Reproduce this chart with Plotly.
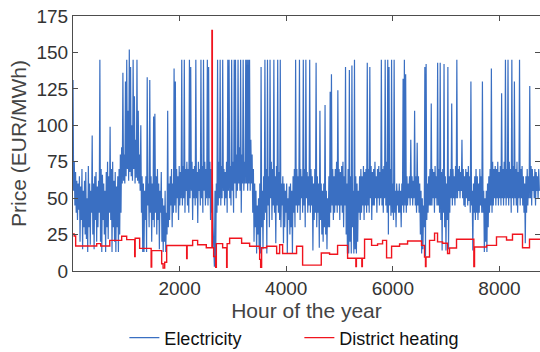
import plotly.graph_objects as go

elec_step_h = 12
elec_price = [
    131, 55, 75, 45, 68, 40, 62, 35, 60, 42,
    65, 20, 58, 35, 70, 15, 55, 30, 62, 25,
    68, 22, 50, 13, 72, 30, 60, 18, 55, 40,
    93, 25, 60, 15, 65, 35, 68, 20, 58, 30,
    62, 40, 145, 20, 70, 13, 66, 35, 60, 25,
    55, 13, 68, 30, 75, 22, 65, 40, 99, 35,
    70, 13, 75, 30, 62, 20, 68, 13, 58, 30,
    65, 13, 70, 25, 80, 40, 85, 60, 136, 62,
    80, 60, 130, 65, 145, 70, 110, 62, 152, 68,
    140, 65, 100, 62, 145, 70, 120, 60, 90, 64,
    145, 62, 110, 60, 80, 55, 100, 40, 65, 13,
    60, 13, 55, 35, 65, 13, 133, 45, 60, 30,
    131, 40, 65, 20, 60, 35, 106, 30, 108, 40,
    65, 25, 70, 35, 60, 15, 55, 40, 68, 20,
    50, 13, 45, 20, 55, 13, 40, 25, 110, 30,
    60, 35, 65, 45, 70, 30, 60, 40, 139, 45,
    130, 40, 70, 50, 65, 35, 72, 45, 68, 50,
    145, 45, 72, 50, 145, 40, 70, 55, 75, 45,
    70, 40, 145, 50, 140, 55, 75, 35, 70, 50,
    72, 45, 145, 50, 68, 33, 75, 55, 70, 45,
    145, 50, 72, 40, 145, 55, 75, 45, 70, 50,
    145, 45, 140, 50, 75, 35, 70, 40, 60, 30,
    20, 3, 55, 3, 60, 40, 145, 45, 75, 50,
    145, 45, 72, 50, 145, 55, 70, 45, 68, 50,
    75, 40, 145, 55, 145, 50, 72, 45, 145, 55,
    75, 40, 145, 60, 145, 50, 80, 55, 145, 60,
    85, 55, 145, 40, 80, 60, 145, 55, 75, 60,
    145, 60, 145, 55, 145, 60, 145, 55, 90, 60,
    80, 40, 70, 20, 60, 30, 55, 12, 45, 25,
    50, 15, 60, 12, 140, 30, 55, 15, 65, 35,
    145, 40, 70, 12, 145, 45, 65, 30, 145, 50,
    75, 35, 70, 45, 145, 40, 65, 19, 72, 45,
    145, 40, 68, 35, 145, 30, 60, 45, 65, 19,
    60, 30, 55, 40, 60, 12, 50, 35, 58, 25,
    60, 30, 55, 12, 65, 40, 70, 30, 145, 45,
    70, 40, 65, 45, 145, 35, 70, 50, 65, 40,
    145, 45, 70, 30, 145, 50, 68, 40, 65, 45,
    145, 40, 70, 45, 65, 14, 60, 35, 70, 40,
    143, 30, 65, 40, 60, 16, 110, 35, 60, 25,
    55, 20, 60, 30, 114, 25, 55, 15, 50, 30,
    65, 30, 123, 40, 135, 45, 70, 35, 65, 40,
    70, 45, 75, 40, 124, 45, 70, 35, 68, 45,
    72, 40, 75, 30, 65, 45, 140, 25, 60, 12,
    70, 12, 138, 20, 65, 12, 141, 30, 55, 12,
    145, 15, 65, 12, 60, 20, 55, 40, 65, 35,
    70, 40, 65, 45, 72, 35, 68, 45, 70, 40,
    143, 45, 70, 40, 140, 50, 72, 35, 68, 45,
    70, 45, 75, 50, 65, 40, 70, 50, 72, 45,
    68, 50, 145, 45, 70, 40, 72, 50, 145, 45,
    75, 40, 145, 25, 140, 45, 70, 38, 145, 40,
    60, 35, 145, 40, 55, 30, 60, 45, 55, 40,
    60, 40, 55, 30, 60, 45, 132, 40, 145, 45,
    135, 40, 65, 45, 60, 50, 65, 45, 90, 50,
    65, 45, 62, 50, 110, 45, 65, 40, 88, 45,
    65, 40, 60, 25, 55, 12, 50, 15, 45, 30,
    140, 10, 142, 35, 60, 40, 65, 45, 70, 45,
    115, 45, 70, 50, 68, 40, 72, 50, 65, 45,
    143, 45, 70, 40, 143, 35, 68, 14, 70, 40,
    142, 30, 65, 14, 60, 35, 140, 15, 65, 40,
    70, 50, 115, 45, 70, 50, 65, 45, 72, 50,
    145, 50, 70, 55, 72, 50, 68, 55, 90, 50,
    70, 45, 65, 44, 70, 50, 68, 45, 72, 48,
    65, 40, 130, 45, 55, 14, 60, 40, 65, 35,
    70, 40, 65, 35, 60, 40, 70, 45, 65, 40,
    130, 40, 55, 13, 50, 20, 55, 13, 60, 30,
    65, 40, 70, 45, 139, 40, 75, 45, 70, 50,
    72, 45, 70, 50, 75, 45, 68, 50, 72, 45,
    122, 50, 70, 45, 75, 50, 145, 45, 70, 50,
    145, 45, 75, 50, 70, 40, 145, 50, 72, 45,
    130, 50, 70, 45, 75, 40, 68, 50, 145, 45,
    70, 50, 72, 45, 65, 40, 60, 19, 65, 40,
    70, 45, 65, 50, 127, 50, 72, 45, 70, 55,
    65, 50, 70, 45, 68, 55, 65, 50, 70, 55,
]
elec_hours = [i * elec_step_h for i in range(len(elec_price))]

# District heating price: change points (hour, EUR/MWh), step-wise
dh_hours = [0, 22, 50, 445, 520, 690, 913, 1007, 1157, 1166, 1250, 1466, 1476,
            1663, 1690, 1720, 1757, 2132, 2141, 2244, 2338, 2500, 2606, 2614,
            2638, 2676, 2689, 2807, 2882, 2891, 2938, 3163, 3313, 3501, 3520,
            3538, 3632, 3820, 3876, 3932, 4194, 4307, 4657, 4813, 4963, 5151,
            5306, 5316, 5418, 5428, 5469, 5601, 5713, 5807, 5882, 5976, 6126,
            6276, 6538, 6594, 6612, 6622, 6688, 6782, 6838, 6932, 7026, 7063,
            7194, 7519, 7532, 7757, 7944, 8132, 8244, 8432, 8563, 8760]
dh_price = [25.5, 24, 17.2, 18.8, 17.2, 21, 23.8, 21.5, 10, 22.5, 15.5, 2.7, 14,
            5, 2, 6, 17.5, 8.6, 17.5, 21, 18, 16, 165, 16,
            10, 2.6, 18.8, 16, 2.6, 18.8, 22.5, 19, 17, 8, 2.6,
            16, 17, 12, 18, 12, 17, 4, 12.4, 11.5, 17.6, 8.7,
            3, 8.7, 3, 8.7, 21.8, 17.6, 18.6, 21, 9, 17, 18.5,
            20.6, 17.6, 9.6, 3, 9.6, 21, 26, 20, 19, 12, 15.8,
            21.8, 3, 16.5, 17.6, 23.4, 21.3, 25.2, 16, 21.8, 21.8]

x_ticks = [2000, 4000, 6000, 8000]
y_ticks = [0, 25, 50, 75, 100, 125, 150, 175]

FONT = "Liberation Sans, Arial, Helvetica, sans-serif"

fig = go.Figure()
fig.add_trace(go.Scatter(x=elec_hours, y=elec_price, mode="lines", name="Electricity",
                         line=dict(color="#3a6fc2", width=1.2)))
fig.add_trace(go.Scatter(x=dh_hours, y=dh_price, mode="lines", name="District heating",
                         line=dict(color="#f0141e", width=1.4, shape="hv")))

axis_common = dict(showgrid=False, zeroline=False, showline=True, linecolor="#4d4d4d",
                   linewidth=1, mirror="ticks", ticks="inside", ticklen=5,
                   tickcolor="#4d4d4d", tickfont=dict(size=19, color="#333333", family=FONT))
fig.update_xaxes(range=[0, 8760], tickvals=x_ticks, **axis_common, automargin=False,
                 title=dict(text="Hour of the year", font=dict(size=21, color="#444444", family=FONT),
                            standoff=2))
fig.update_yaxes(range=[0, 175], tickvals=y_ticks, **axis_common, automargin=False,
                 title=dict(text="Price (EUR/MWh)", font=dict(size=21, color="#444444", family=FONT),
                            standoff=4))
fig.update_layout(
    width=540, height=352,
    margin=dict(l=73, r=0, t=16, b=81, autoexpand=False),
    paper_bgcolor="white", plot_bgcolor="white",
    showlegend=True,
    legend=dict(orientation="h", x=0.11, xanchor="left", y=-0.19, yanchor="top",
                font=dict(size=18, color="#111111", family=FONT),
                itemwidth=30, entrywidth=130, bgcolor="rgba(0,0,0,0)"),
    font=dict(family=FONT),
)
fig.write_html("out.html")
